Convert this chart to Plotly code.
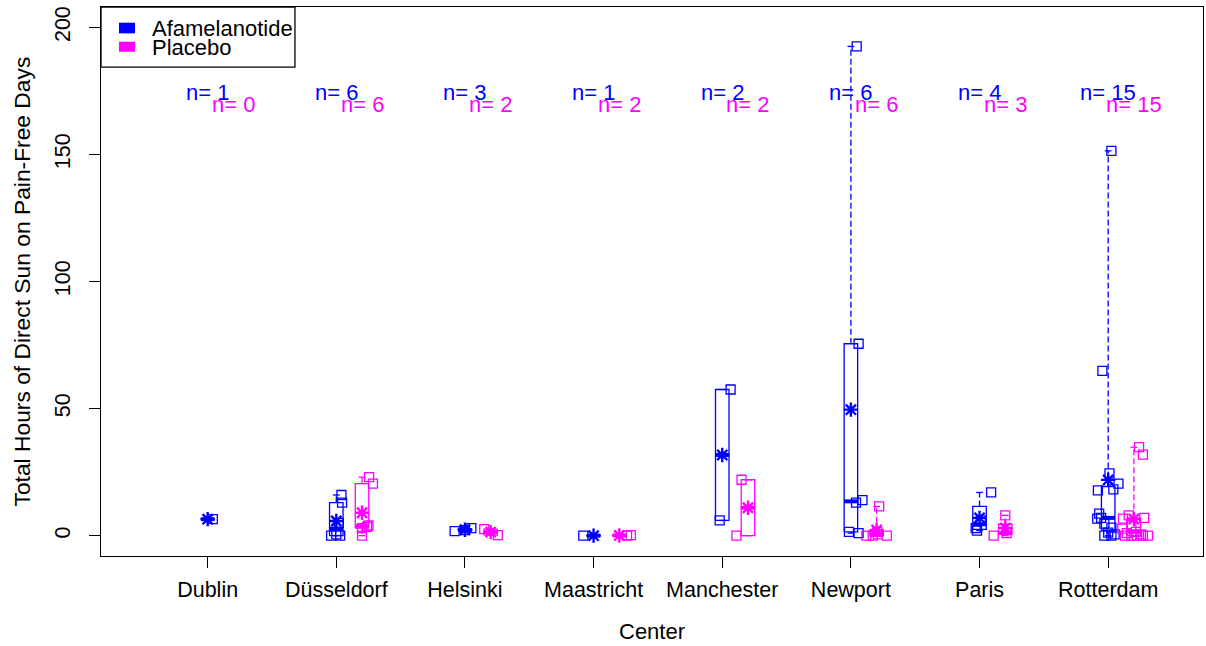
import math
import plotly.graph_objects as go

# Study centres (x axis categories)
CENTERS = ["Dublin", "Düsseldorf", "Helsinki", "Maastricht",
           "Manchester", "Newport", "Paris", "Rotterdam"]

# Total hours of direct sun on pain-free days, per patient, per centre
AFAMELANOTIDE = [
    [6.5],
    [0, 0, 0.5, 5, 13, 16],
    [1.8, 2.2, 3],
    [0],
    [6, 57.5],
    [1, 1.5, 13, 14, 75.5, 192.5],
    [2, 3, 6, 17],
    [151.4, 64.8, 24.5, 20.5, 18.2, 17.8, 8.7, 7, 6.7, 4.7, 3.2, 1.2, 0, 0, 0.5],
]
PLACEBO = [
    [],
    [0, 3, 3.5, 4, 20.5, 23],
    [2.6, 0.2],
    [0, 0.2],
    [0, 22],
    [0, 0, 0, 0.5, 1.5, 11.5],
    [0, 1, 8],
    [34.8, 31.9, 8, 7, 6.7, 4, 2.8, 1.5, 1, 0.5, 0, 0, 0, 0, 0],
]

# Horizontal jitter of the individual points (in category units)
AFAM_JITTER = [
    [0.04],
    [-0.04, 0.03, 0.0, 0.02, 0.045, 0.04],
    [-0.08, 0.0, 0.05],
    [-0.08],
    [-0.02, 0.065],
    [0.06, -0.015, 0.04, 0.09, 0.06, 0.045],
    [-0.02, -0.03, 0.01, 0.09],
    [0.025, -0.045, 0.01, 0.08, 0.04, -0.08, -0.07, -0.055, -0.085, -0.03, 0.025, 0.0, -0.03, 0.025, 0.05],
]
PLAC_JITTER = [
    [],
    [0.0, 0.0, 0.04, 0.05, 0.085, 0.055],
    [-0.05, 0.055],
    [0.06, 0.09],
    [-0.09, -0.05],
    [-0.08, -0.03, 0.08, 0.01, 0.005, 0.02],
    [-0.09, 0.01, 0.0],
    [0.04, 0.07, -0.04, 0.08, -0.085, -0.02, -0.09, 0.015, -0.055, 0.055, -0.07, -0.02, 0.025, 0.07, 0.11],
]

BLUE = "#0000FF"
MAGENTA = "#FF00FF"
FONT = "Liberation Sans, Arial, sans-serif"
FS = 22        # titles, legend and n= labels
FS_TICK = 21.5 # axis tick labels

PLAC_SHIFT = 0.2      # placebo boxes sit to the right of each centre
BOX_W = 0.105         # box width in category units


def fivenum(vals):
    x = sorted(vals)
    n = len(x)
    n4 = math.floor((n + 3) / 2) / 2
    d = [1, n4, (n + 1) / 2, n + 1 - n4, n]
    return [0.5 * (x[math.floor(k - 1)] + x[math.ceil(k - 1)]) for k in d]


def group_traces(groups, jitters, shift, color):
    box_x, box_y = [], []
    med_x, med_y = [], []
    whis_x, whis_y = [], []
    stap_x, stap_y = [], []
    pt_x, pt_y = [], []
    mean_x, mean_y = [], []
    for i, vals in enumerate(groups):
        if not vals:
            continue
        c = i + 1 + shift
        lo, q1, med, q3, hi = fivenum(vals)
        l, r = c - BOX_W / 2, c + BOX_W / 2
        box_x += [l, r, r, l, l, None]
        box_y += [q1, q1, q3, q3, q1, None]
        med_x += [l, r, None]
        med_y += [med, med, None]
        whis_x += [c, c, None, c, c, None]
        whis_y += [q3, hi, None, q1, lo, None]
        sl, sr = c - BOX_W / 4, c + BOX_W / 4
        stap_x += [sl, sr, None, sl, sr, None]
        stap_y += [hi, hi, None, lo, lo, None]
        for v, j in zip(vals, jitters[i]):
            pt_x.append(c + j)
            pt_y.append(v)
        mean_x.append(c)
        mean_y.append(sum(vals) / len(vals))
    return [
        go.Scatter(x=whis_x, y=whis_y, mode="lines",
                   line=dict(color=color, width=1.3, dash="6px,3px")),
        go.Scatter(x=stap_x, y=stap_y, mode="lines",
                   line=dict(color=color, width=1.3)),
        go.Scatter(x=box_x, y=box_y, mode="lines",
                   line=dict(color=color, width=1.3)),
        go.Scatter(x=med_x, y=med_y, mode="lines",
                   line=dict(color=color, width=4)),
        go.Scatter(x=pt_x, y=pt_y, mode="markers",
                   marker=dict(symbol="square-open", size=9,
                               color=color, line=dict(color=color, width=1.3))),
        go.Scatter(x=mean_x, y=mean_y, mode="markers",
                   marker=dict(symbol="asterisk-open", size=12,
                               color=color, line=dict(color=color, width=2.4))),
    ]


fig = go.Figure()
for tr in group_traces(AFAMELANOTIDE, AFAM_JITTER, 0.0, BLUE):
    fig.add_trace(tr)
for tr in group_traces(PLACEBO, PLAC_JITTER, PLAC_SHIFT, MAGENTA):
    fig.add_trace(tr)

# sample sizes above each centre
annotations = []
for i in range(len(CENTERS)):
    annotations.append(dict(x=i + 1, y=174.5, xref="x", yref="y",
                            text=f"n= {len(AFAMELANOTIDE[i])}", showarrow=False,
                            font=dict(family=FONT, size=FS, color=BLUE)))
    annotations.append(dict(x=i + 1 + PLAC_SHIFT, y=169.5, xref="x", yref="y",
                            text=f"n= {len(PLACEBO[i])}", showarrow=False,
                            font=dict(family=FONT, size=FS, color=MAGENTA)))

# axis titles
annotations.append(dict(x=-0.0717, y=0.5, xref="paper", yref="paper",
                        text="Total Hours of Direct Sun on Pain-Free Days",
                        textangle=-90, showarrow=False, xanchor="center", yanchor="middle",
                        font=dict(family=FONT, size=22.8, color="black")))
annotations.append(dict(x=0.5, y=-0.1384, xref="paper", yref="paper",
                        text="Center", showarrow=False, xanchor="center", yanchor="middle",
                        font=dict(family=FONT, size=FS, color="black")))

# legend (top-left, boxed)
annotations.append(dict(x=0.0445, y=0.9617, xref="paper", yref="paper",
                        text="Afamelanotide", showarrow=False, xanchor="left", yanchor="middle",
                        font=dict(family=FONT, size=FS, color="black")))
annotations.append(dict(x=0.0445, y=0.9270, xref="paper", yref="paper",
                        text="Placebo", showarrow=False, xanchor="left", yanchor="middle",
                        font=dict(family=FONT, size=FS, color="black")))
shapes = [
    dict(type="rect", xref="paper", yref="paper", x0=0, x1=0.176, y0=0.8905, y1=1,
         line=dict(color="black", width=1.3), fillcolor="white", layer="above"),
    dict(type="rect", xref="paper", yref="paper", x0=0.0163, x1=0.0309, y0=0.952, y1=0.9714,
         line=dict(width=0), fillcolor=BLUE, layer="above"),
    dict(type="rect", xref="paper", yref="paper", x0=0.0163, x1=0.0309, y0=0.9185, y1=0.9367,
         line=dict(width=0), fillcolor=MAGENTA, layer="above"),
]

fig.update_layout(
    width=1206, height=646,
    margin=dict(l=101, r=3, t=7, b=90),
    paper_bgcolor="white", plot_bgcolor="white",
    showlegend=False,
    annotations=annotations,
    shapes=shapes,
    font=dict(family=FONT, size=FS, color="black"),
    xaxis=dict(range=[0.171, 8.737], tickmode="array",
               tickvals=list(range(1, len(CENTERS) + 1)), ticktext=CENTERS,
               ticks="outside", ticklen=11, tickwidth=1, tickcolor="black",
               ticklabelstandoff=3,
               showgrid=False, zeroline=False, showline=True, mirror=True,
               linecolor="black", linewidth=1.3,
               tickfont=dict(family=FONT, size=FS_TICK, color="black")),
    yaxis=dict(range=[-8, 208], tickmode="array", tickvals=[0, 50, 100, 150, 200],
               ticks="outside", ticklen=11, tickwidth=1, tickcolor="black",
               tickangle=-90, ticklabelstandoff=10,
               showgrid=False, zeroline=False, showline=True, mirror=True,
               linecolor="black", linewidth=1.3,
               tickfont=dict(family=FONT, size=FS_TICK, color="black")),
)

fig.write_html("out.html")
